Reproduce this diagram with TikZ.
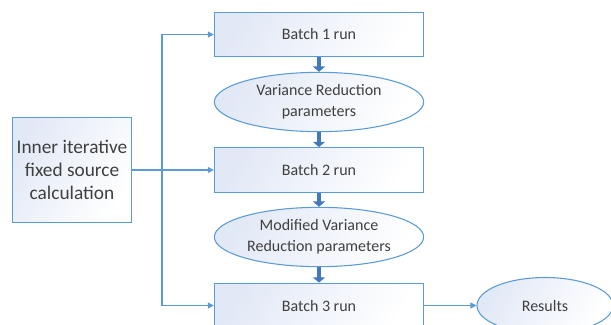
\documentclass[tikz,border=0pt]{standalone}
\usepackage{fontspec}
\setmainfont{Carlito}
\usetikzlibrary{arrows.meta,shapes.geometric}

\definecolor{edgeblue}{RGB}{91,155,213}
\definecolor{flowblue}{RGB}{68,120,190}
\definecolor{fillblue}{RGB}{226,233,246}

\begin{document}
\begin{tikzpicture}[x=0.75pt, y=-0.75pt,
  batchnode/.style={shape=rectangle, draw=edgeblue, line width=0.8, left color=fillblue, right color=white, shading angle=60, minimum width=157pt, minimum height=33.5pt, font=\fontsize{12}{14}\selectfont, text=black!75},
  paramnode/.style={shape=ellipse, draw=edgeblue, line width=0.8, left color=fillblue, right color=white, shading angle=60, minimum width=157pt, minimum height=44.5pt, inner sep=0pt, align=center, font=\fontsize{12}{15.5}\selectfont, text=black!75},
  sourcenode/.style={shape=rectangle, draw=edgeblue, line width=0.8, left color=fillblue, right color=white, shading angle=60, minimum width=89.5pt, minimum height=79pt, inner sep=0pt, align=center, font=\fontsize{14.5}{17.5}\selectfont, text=black!75},
  thinarrow/.style={draw=edgeblue, line width=0.9, -{Triangle[width=4.5pt,length=4.5pt]}},
  fatarrow/.style={draw=flowblue, line width=3.5pt, -{Triangle[width=9pt,length=4pt]}},
]

\useasboundingbox (0,0) rectangle (611,325);
\clip (0,0) rectangle (611,325);

%NODES
\node[sourcenode] (src) at (72,170) {Inner iterative\\fixed source\\calculation};
\node[batchnode] (b1) at (319,34.5) {Batch 1 run};
\node[paramnode] (p1) at (319,102) {Variance Reduction\\parameters};
\node[batchnode] (b2) at (319,170) {Batch 2 run};
\node[paramnode] (p2) at (319,237) {Modified Variance\\Reduction parameters};
\node[batchnode] (b3) at (319,305.5) {Batch 3 run};
\node[paramnode, minimum width=102pt, minimum height=42pt] (res) at (545,305.5) {Results};

%FLOW
\draw[fatarrow] (b1.south) -- (p1.north);
\draw[fatarrow] (p1.south) -- (b2.north);
\draw[fatarrow] (b2.south) -- (p2.north);
\draw[fatarrow] (p2.south) -- (b3.north);

%FEED
\coordinate (split) at (162,170);
\draw[thinarrow] (src.east) -- (b2.west);
\draw[thinarrow] (split) |- (b1.west);
\draw[thinarrow] (split) |- (b3.west);
\draw[thinarrow] (b3.east) -- (res.west);

\end{tikzpicture}
\end{document}
